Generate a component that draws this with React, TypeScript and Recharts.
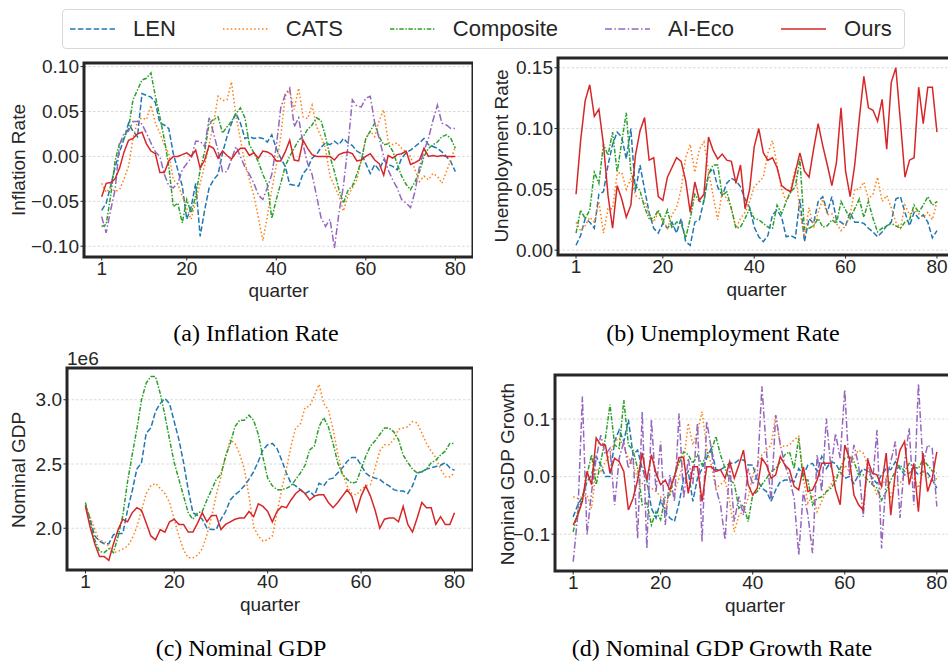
import React from "react";
import { LineChart, Line, XAxis, YAxis, CartesianGrid, ReferenceArea } from "recharts";

// quarters 1..80 on the x axis
const quarters = Array.from({ length: 80 }, (_, i) => i + 1);
const xTicks = [1, 20, 40, 60, 80];

// (a) inflation rate
const inflLEN = [
  -0.06, -0.052, -0.033, -0.012, 0.005, 0.02, 0.037, 0.028, 0.022, 0.07,
  0.068, 0.066, 0.06, 0.037, 0.035, 0.031, 0.003, -0.015, -0.033, -0.07,
  -0.056, -0.03, -0.089, -0.06, -0.035, -0.026, -0.02, 0.004, 0.022, 0.037,
  0.048, 0.037, 0.02, 0.022, 0.02, 0.021, 0.02, 0.016, 0.024, 0.009,
  -0.002, -0.011, -0.031, -0.032, -0.033, -0.019, -0.013, -0.002, 0.002, 0.01,
  0.015, 0.013, 0.017, 0.013, 0.02, 0.015, 0.012, 0.006, 0.003, -0.008,
  -0.019, -0.009, -0.015, -0.004, -0.009, -0.011, -0.015, -0.002, 0.004, 0.007,
  0.011, 0.015, 0.02, 0.013, 0.011, 0.009, 0.005, 0.0, -0.006, -0.017,
];
const inflCATS = [
  -0.03, -0.04, -0.035, -0.039, -0.037, -0.025, -0.011, 0.02, 0.039, 0.043,
  0.041, 0.057, 0.037, 0.026, 0.013, 0.003, -0.026, -0.031, -0.044, -0.058,
  -0.07, -0.05, -0.03, -0.01, 0.013, 0.037, 0.067, 0.062, 0.063, 0.083,
  0.045, 0.019, -0.007, -0.026, -0.044, -0.068, -0.094, -0.067, -0.037, -0.01,
  0.022, 0.067, 0.074, 0.052, 0.076, 0.044, 0.042, 0.057, 0.033, 0.022,
  0.009, -0.022, -0.033, -0.044, -0.061, -0.044, -0.035, -0.026, -0.004, 0.02,
  0.028, 0.022, 0.04, 0.052, 0.016, 0.013, 0.015, 0.009, 0.005, 0.0,
  -0.015, -0.028, -0.022, -0.026, -0.019, -0.022, -0.03, -0.017, -0.004, 0.011,
];
const inflComposite = [
  -0.078, -0.076, -0.044, -0.005, 0.015, 0.02, 0.031, 0.063, 0.074, 0.085,
  0.087, 0.093, 0.067, 0.044, 0.019, -0.011, -0.056, -0.052, -0.074, -0.048,
  -0.063, -0.044, -0.015, 0.005, 0.037, 0.041, 0.044, 0.026, 0.033, 0.039,
  0.048, 0.054, 0.043, 0.013, 0.004, -0.006, -0.02, -0.031, -0.069, -0.048,
  -0.03, -0.011, 0.0, 0.009, 0.018, 0.022, 0.03, 0.035, 0.043, 0.04,
  0.022, 0.0, -0.017, -0.037, -0.052, -0.038, -0.033, -0.02, -0.005, 0.02,
  0.028, 0.037, 0.022, 0.013, 0.014, 0.006, -0.008, -0.022, -0.031, -0.037,
  -0.028, -0.017, 0.0, 0.009, 0.013, 0.016, 0.022, 0.024, 0.02, 0.009,
];
const inflAIEco = [
  -0.067, -0.085, -0.06, -0.037, 0.013, 0.026, 0.028, 0.039, 0.039, 0.036,
  0.026, 0.015, 0.005, 0.0, -0.02, -0.033, -0.035, -0.03, -0.015, -0.008,
  -0.002, 0.017, 0.017, 0.011, 0.043, 0.026, 0.006, -0.017, -0.017, -0.003,
  0.011, 0.0, -0.012, -0.02, -0.03, -0.043, -0.048, -0.035, -0.02, 0.011,
  0.054, 0.069, 0.076, 0.033, 0.043, 0.013, -0.008, -0.02, -0.044, -0.068,
  -0.078, -0.07, -0.102, -0.063, -0.033, 0.011, 0.063, 0.056, 0.055, 0.065,
  0.067, 0.037, 0.02, 0.0, -0.015, -0.026, -0.035, -0.048, -0.052, -0.057,
  -0.039, -0.011, 0.006, 0.02, 0.04, 0.057, 0.037, 0.035, 0.031, 0.031,
];
const inflOurs = [
  -0.045, -0.03, -0.029, -0.025, -0.013, 0.005, 0.018, 0.02, 0.025, 0.027,
  0.014, 0.006, 0.003, -0.018, -0.018, -0.005, 0.0, 0.0, 0.002, 0.004,
  0.0, 0.007, -0.013, -0.004, 0.012, 0.009, -0.002, 0.006, 0.001, -0.003,
  0.004, 0.009, 0.009, 0.001, 0.004, -0.002, 0.006, 0.005, 0.002, -0.005,
  -0.005, 0.005, 0.018, -0.004, -0.005, 0.018, 0.009, 0.002, 0.0, 0.0,
  0.0, 0.0, -0.004, 0.002, 0.004, 0.005, 0.003, -0.005, -0.004, 0.0,
  0.003, -0.004, -0.008, -0.021, 0.001, -0.002, 0.002, 0.003, 0.006, -0.009,
  -0.007, -0.004, 0.009, 0.0, 0.001, 0.0, 0.001, 0.0, 0.0, 0.0,
];

// (b) unemployment rate
const unempLEN = [
  0.004, 0.012, 0.026, 0.023, 0.018, 0.046, 0.048, 0.07, 0.087, 0.097,
  0.093, 0.075, 0.1, 0.048, 0.07, 0.05, 0.031, 0.018, 0.014, 0.022,
  0.018, 0.023, 0.014, 0.026, 0.007, 0.004, 0.023, 0.025, 0.041, 0.063,
  0.067, 0.052, 0.045, 0.055, 0.059, 0.057, 0.052, 0.042, 0.035, 0.019,
  0.011, 0.007, 0.012, 0.029, 0.033, 0.027, 0.011, 0.012, 0.01, 0.042,
  0.007, 0.026, 0.022, 0.04, 0.044, 0.031, 0.044, 0.025, 0.023, 0.02,
  0.031, 0.023, 0.023, 0.022, 0.018, 0.015, 0.011, 0.015, 0.02, 0.023,
  0.042, 0.044, 0.031, 0.02, 0.031, 0.026, 0.029, 0.023, 0.01, 0.016,
];
const unempCATS = [
  0.023, 0.016, 0.02, 0.027, 0.023, 0.04, 0.014, 0.034, 0.034, 0.063,
  0.064, 0.05, 0.059, 0.045, 0.042, 0.04, 0.029, 0.023, 0.031, 0.025,
  0.018, 0.029, 0.035, 0.05, 0.076, 0.087, 0.064, 0.083, 0.089, 0.065,
  0.045, 0.025, 0.048, 0.042, 0.035, 0.018, 0.026, 0.031, 0.04, 0.052,
  0.056, 0.06, 0.08, 0.09, 0.07, 0.05, 0.04, 0.05, 0.067, 0.031,
  0.011, 0.035, 0.018, 0.031, 0.042, 0.029, 0.03, 0.022, 0.016, 0.02,
  0.029, 0.05, 0.05, 0.056, 0.042, 0.046, 0.06, 0.04, 0.045, 0.035,
  0.023, 0.018, 0.037, 0.029, 0.033, 0.03, 0.027, 0.031, 0.025, 0.04,
];
const unempComposite = [
  0.014, 0.033, 0.026, 0.033, 0.064, 0.055, 0.087, 0.078, 0.097, 0.064,
  0.089, 0.113, 0.064, 0.053, 0.049, 0.035, 0.026, 0.026, 0.033, 0.023,
  0.033, 0.018, 0.023, 0.022, 0.01, 0.026, 0.046, 0.04, 0.04, 0.063,
  0.07, 0.07, 0.045, 0.048, 0.034, 0.018, 0.019, 0.026, 0.034, 0.026,
  0.025, 0.022, 0.019, 0.018, 0.037, 0.03, 0.04, 0.048, 0.052, 0.075,
  0.016, 0.018, 0.02, 0.026, 0.019, 0.02, 0.025, 0.022, 0.04, 0.033,
  0.026, 0.034, 0.042, 0.027, 0.04, 0.026, 0.015, 0.018, 0.02, 0.022,
  0.02, 0.018, 0.023, 0.025, 0.037, 0.031, 0.037, 0.044, 0.037, 0.04,
];
const unempOurs = [
  0.046, 0.09, 0.123, 0.136, 0.11, 0.116, 0.087, 0.045, 0.018, 0.053,
  0.042, 0.027, 0.037, 0.078, 0.098, 0.109, 0.074, 0.076, 0.044, 0.041,
  0.06, 0.068, 0.076, 0.073, 0.057, 0.031, 0.056, 0.041, 0.046, 0.093,
  0.082, 0.075, 0.079, 0.074, 0.073, 0.055, 0.07, 0.034, 0.05, 0.085,
  0.1, 0.08, 0.074, 0.076, 0.068, 0.053, 0.05, 0.048, 0.064, 0.08,
  0.065, 0.06, 0.083, 0.104, 0.086, 0.07, 0.053, 0.072, 0.117, 0.065,
  0.044, 0.07, 0.108, 0.143, 0.117, 0.115, 0.106, 0.124, 0.083, 0.138,
  0.15, 0.106, 0.06, 0.074, 0.076, 0.134, 0.104, 0.134, 0.134, 0.097,
];

// (c) nominal GDP, in units of 1e6
const gdpLEN = [
  2.18, 2.07, 1.94, 1.9, 1.88, 1.88, 1.95, 1.96, 1.96, 2.14,
  2.29, 2.46, 2.51, 2.74, 2.78, 2.91, 2.97, 3.01, 2.97, 2.83,
  2.69, 2.51, 2.3, 2.12, 2.1, 2.07, 2.0, 1.99, 1.99, 2.07,
  2.13, 2.22, 2.26, 2.29, 2.33, 2.38, 2.44, 2.52, 2.61, 2.65,
  2.66, 2.62, 2.53, 2.43, 2.35, 2.33, 2.3, 2.27, 2.29, 2.25,
  2.35, 2.33, 2.38, 2.39, 2.43, 2.47, 2.52, 2.55, 2.55, 2.49,
  2.43, 2.4, 2.39, 2.38, 2.35, 2.33, 2.3, 2.29, 2.29, 2.27,
  2.33, 2.43, 2.44, 2.46, 2.47, 2.48, 2.49, 2.51, 2.47, 2.45,
];
const gdpCATS = [
  2.17, 2.09, 1.99, 1.9, 1.9, 1.86, 1.81, 1.82, 1.84, 1.86,
  1.92, 2.01, 2.14, 2.27, 2.33, 2.35, 2.31, 2.27, 2.2, 2.07,
  1.94, 1.83, 1.77, 1.77, 1.79, 1.84, 1.95, 2.09, 2.26, 2.4,
  2.56, 2.69, 2.66, 2.58, 2.46, 2.25, 2.01, 1.94, 1.9, 1.91,
  1.94, 2.12, 2.3, 2.46, 2.64, 2.78, 2.81, 2.94, 2.95, 3.03,
  3.12, 2.97, 2.92, 2.77, 2.58, 2.43, 2.33, 2.27, 2.26, 2.3,
  2.33, 2.34, 2.47, 2.6, 2.65, 2.65, 2.69, 2.77, 2.78, 2.79,
  2.83, 2.82, 2.74, 2.66, 2.6, 2.55, 2.46, 2.4, 2.4, 2.43,
];
const gdpComposite = [
  2.2, 2.04, 1.91, 1.82, 1.81, 1.84, 1.81, 1.94, 2.1, 2.36,
  2.57, 2.77, 3.0, 3.13, 3.18, 3.18, 3.05, 2.88, 2.69, 2.51,
  2.38, 2.25, 2.12, 2.07, 2.12, 2.13, 2.22, 2.3, 2.38, 2.42,
  2.56, 2.66, 2.79, 2.84, 2.84, 2.88, 2.84, 2.73, 2.55, 2.39,
  2.33, 2.3, 2.3, 2.31, 2.33, 2.38, 2.43, 2.49, 2.61, 2.64,
  2.79, 2.86, 2.79, 2.66, 2.51, 2.42, 2.38, 2.35, 2.36, 2.46,
  2.56, 2.64, 2.68, 2.73, 2.78, 2.78, 2.75, 2.69, 2.57, 2.51,
  2.46, 2.43, 2.44, 2.46, 2.51, 2.53, 2.57, 2.6, 2.66, 2.66,
];
const gdpOurs = [
  2.17, 2.01, 1.88, 1.78, 1.78, 1.75, 1.88, 1.99, 2.07, 2.05,
  2.12, 2.16, 2.14, 2.04, 1.94, 1.91, 1.99, 1.97, 2.05, 2.07,
  2.03, 2.03, 1.97, 1.97, 2.04, 2.12, 2.05, 2.1, 2.1, 1.99,
  2.03, 2.05, 2.07, 2.08, 2.08, 2.13, 2.09, 2.19, 2.17, 2.13,
  2.05, 2.13, 2.17, 2.16, 2.22, 2.27, 2.3, 2.27, 2.22, 2.25,
  2.26, 2.26, 2.2, 2.16, 2.2, 2.25, 2.3, 2.25, 2.13, 2.25,
  2.33, 2.25, 2.14, 2.0, 2.07, 2.08, 2.08, 2.05, 2.17, 2.03,
  1.97, 2.08, 2.2, 2.16, 2.16, 2.03, 2.09, 2.03, 2.03, 2.12,
];

// (d) nominal GDP growth
const growthLEN = [
  -0.07, -0.049, -0.035, -0.009, 0.003, 0.035, 0.02, 0.0, 0.0, 0.061,
  0.081, 0.061, 0.099, 0.038, 0.046, 0.014, -0.006, -0.055, -0.072, -0.041,
  -0.061, -0.072, -0.078, -0.046, -0.003, 0.009, -0.043, -0.003, 0.014, 0.032,
  0.049, 0.012, 0.012, 0.017, 0.023, 0.023, 0.029, 0.029, 0.02, 0.02,
  -0.006, -0.02, -0.026, -0.043, -0.023, -0.009, -0.006, -0.006, -0.009, 0.014,
  0.003, 0.02, 0.023, 0.009, 0.035, 0.014, 0.026, 0.023, 0.009, -0.003,
  0.0, -0.012, 0.003, 0.014, 0.009, -0.003, -0.012, 0.003, 0.014, 0.012,
  0.026, 0.014, 0.003, 0.006, 0.012, 0.003, 0.009, 0.006, -0.005, -0.02,
];
const growthCATS = [
  -0.035, -0.038, -0.035, -0.032, -0.055, 0.014, 0.009, 0.026, 0.038, 0.061,
  0.067, 0.052, 0.032, 0.02, -0.003, -0.012, -0.014, -0.02, -0.026, -0.035,
  -0.058, -0.026, -0.026, -0.003, 0.026, 0.093, 0.055, 0.078, 0.113, 0.049,
  0.02, -0.02, -0.014, -0.006, -0.043, -0.096, -0.067, -0.06, -0.038, 0.003,
  0.02, 0.038, 0.046, 0.055, 0.107, 0.055, 0.052, 0.055, 0.064, 0.07,
  -0.003, -0.046, -0.032, -0.061, -0.043, -0.026, -0.014, 0.003, 0.003, 0.02,
  0.009, 0.035, 0.046, 0.041, 0.02, -0.009, -0.032, -0.017, -0.003, -0.035,
  -0.014, -0.012, 0.003, 0.009, -0.003, -0.02, 0.009, 0.0, -0.01, -0.003,
];
const growthComposite = [
  -0.096, -0.061, -0.038, 0.003, 0.038, -0.014, 0.026, 0.067, 0.125, 0.055,
  0.049, 0.133, 0.055, 0.046, 0.014, -0.049, -0.046, -0.084, -0.061, -0.075,
  -0.035, -0.032, 0.003, 0.023, 0.043, 0.038, 0.023, 0.038, 0.02, 0.041,
  0.043, 0.07, 0.038, 0.014, -0.006, -0.012, -0.055, -0.049, -0.078, -0.032,
  -0.026, -0.014, -0.003, 0.009, 0.014, 0.026, 0.038, 0.043, 0.014, 0.067,
  -0.006, -0.006, -0.049, -0.038, -0.035, -0.026, -0.02, -0.009, 0.014, 0.032,
  0.035, 0.026, 0.003, 0.003, -0.006, -0.014, -0.02, -0.041, -0.026, -0.006,
  0.009, 0.02, 0.009, 0.023, 0.017, 0.014, 0.029, 0.02, 0.01, 0.006,
];
const growthAIEco = [
  -0.148, -0.067, 0.139, -0.101, -0.026, 0.032, 0.072, 0.038, 0.049, -0.049,
  0.032, 0.061, 0.014, 0.038, -0.107, 0.113, -0.125, 0.099, -0.026, 0.061,
  -0.084, 0.003, -0.043, 0.11, -0.038, 0.032, -0.014, 0.093, -0.113, 0.096,
  0.049, -0.02, -0.049, -0.11, 0.02, -0.078, -0.035, -0.067, 0.014, -0.014,
  0.003, 0.157, 0.043, -0.043, 0.107, 0.055, 0.02, -0.003, -0.038, -0.136,
  -0.026, -0.067, -0.133, 0.038, -0.026, 0.101, 0.014, 0.075, 0.032, 0.151,
  0.003, 0.055, 0.02, -0.07, 0.032, -0.014, 0.081, -0.125, -0.003, 0.026,
  0.061, -0.072, 0.026, 0.084, -0.049, 0.162, 0.02, 0.055, 0.049, -0.052,
];
const growthOurs = [
  -0.084, -0.067, -0.043, 0.009, -0.014, 0.067, 0.055, 0.055, 0.006, 0.032,
  0.026, 0.009, -0.058, -0.038, -0.006, 0.041, -0.006, 0.038, 0.006, -0.014,
  -0.006, -0.023, 0.0, 0.033, 0.033, -0.029, 0.017, 0.017, -0.043, 0.017,
  0.017, 0.009, 0.012, -0.003, 0.026, -0.003, 0.02, 0.046, -0.014, -0.032,
  -0.02, 0.032, 0.02, -0.003, 0.003, 0.035, 0.02, 0.012, -0.017, -0.023,
  0.017, -0.026, -0.023, -0.006, 0.023, 0.023, 0.023, -0.023, -0.049, 0.055,
  0.032, -0.032, -0.049, -0.058, 0.029, 0.006, 0.003, -0.017, 0.041, -0.067,
  0.009, 0.046, 0.061, -0.014, 0.023, -0.061, 0.041, -0.026, -0.003, 0.043,
];

const FONT = '"Liberation Sans", Arial, sans-serif';
const INK = "#262626";
const X_DOMAIN: [number, number] = [-2.95, 83.95];

const SERIES = [
  { key: "LEN", color: "#1f77b4", dash: "5.5 2.4" },
  { key: "CATS", color: "#ff7f0e", dash: "1.5 2.4" },
  { key: "Composite", color: "#2ca02c", dash: "4.5 1.6 1.5 1.6" },
  { key: "AI-Eco", color: "#9467bd", dash: "7 2.4 1.5 2.4" },
  { key: "Ours", color: "#d62728", dash: undefined },
];

const signed = (digits: number) => (v: number) =>
  (v < 0 ? "\u2212" : "") + Math.abs(v).toFixed(digits);

const tickStyle = { fontSize: 19, fill: INK, fontFamily: FONT };

type PanelProps = {
  left: number;
  top: number;
  plotW: number;
  plotH: number;
  yAxisW: number;
  yDomain: [number, number];
  yTicks: number[];
  fmt: (v: number) => string;
  labelOffset: number;
  series: Record<string, number[]>;
};

function Panel({ left, top, plotW, plotH, yAxisW, yDomain, yTicks, fmt, labelOffset, series }: PanelProps) {
  const data = quarters.map((q, i) => {
    const row: Record<string, number> = { q };
    Object.keys(series).forEach((k) => {
      row[k] = series[k][i];
    });
    return row;
  });
  const xH = 45;
  const padTop = 14;
  return (
    <div style={{ position: "absolute", left: left - yAxisW, top: top - padTop }}>
      <LineChart
        width={yAxisW + plotW}
        height={padTop + plotH + xH}
        data={data}
        margin={{ top: padTop, right: 0, bottom: 0, left: 0 }}
      >
        <CartesianGrid vertical={false} stroke="#cfcfcf" strokeDasharray="2.5 2" strokeWidth={0.8} />
        <XAxis
          dataKey="q"
          type="number"
          domain={X_DOMAIN}
          ticks={xTicks}
          interval={0}
          allowDataOverflow
          height={xH}
          axisLine={false}
          tickSize={3.5}
          tickMargin={1.5}
          tickLine={{ stroke: INK }}
          tick={tickStyle}
          label={{ value: "quarter", position: "insideBottom", offset: labelOffset, fill: INK, fontSize: 19, fontFamily: FONT }}
        />
        <YAxis
          type="number"
          domain={yDomain}
          ticks={yTicks}
          interval={0}
          allowDataOverflow
          width={yAxisW}
          axisLine={false}
          tickSize={3.5}
          tickMargin={1.5}
          tickLine={{ stroke: INK }}
          tick={tickStyle}
          tickFormatter={fmt}
        />
        {SERIES.filter((s) => series[s.key]).map((s) => (
          <Line
            key={s.key}
            type="linear"
            dataKey={s.key}
            stroke={s.color}
            strokeWidth={1.5}
            strokeDasharray={s.dash}
            dot={false}
            activeDot={false}
            isAnimationActive={false}
          />
        ))}
        <ReferenceArea
          x1={X_DOMAIN[0]}
          x2={X_DOMAIN[1]}
          y1={yDomain[0]}
          y2={yDomain[1]}
          fill="none"
          stroke={INK}
          strokeWidth={3}
          ifOverflow="visible"
        />
      </LineChart>
    </div>
  );
}

function Title({ x, y, text, rotate, size = 19, serif = false }: { x: number; y: number; text: string; rotate?: boolean; size?: number; serif?: boolean }) {
  return (
    <div
      style={{
        position: "absolute",
        left: x,
        top: y,
        transform: `translate(-50%, -50%)${rotate ? " rotate(-90deg)" : ""}`,
        whiteSpace: "nowrap",
        fontSize: size,
        lineHeight: 1,
        fontFamily: serif ? '"Liberation Serif", "Times New Roman", serif' : FONT,
        color: serif ? "#000" : INK,
      }}
    >
      {text}
    </div>
  );
}

function LegendBox() {
  return (
    <div
      style={{
        position: "absolute",
        left: 62,
        top: 9,
        width: 843,
        height: 40,
        boxSizing: "border-box",
        border: "1px solid #d8d8d8",
        borderRadius: 4,
        display: "flex",
        alignItems: "center",
        paddingLeft: 7,
        background: "#fff",
        whiteSpace: "nowrap",
      }}
    >
      {SERIES.map((s) => (
        <div key={s.key} style={{ display: "flex", alignItems: "center", marginRight: 47, flexShrink: 0 }}>
          <svg width={45} height={10}>
            <line x1={0} y1={5} x2={45} y2={5} stroke={s.color} strokeWidth={1.5} strokeDasharray={s.dash} />
          </svg>
          <span style={{ marginLeft: 18, fontSize: 22, fontFamily: FONT, color: INK, lineHeight: 1 }}>{s.key}</span>
        </div>
      ))}
    </div>
  );
}

export default function App() {
  return (
    <div
      style={{
        position: "absolute",
        left: 0,
        top: 0,
        width: 948,
        height: 666,
        overflow: "hidden",
        background: "#fff",
      }}
    >
      <LegendBox />

      <Panel
        left={84}
        top={63}
        plotW={389}
        plotH={194}
        yAxisW={84}
        yDomain={[-0.112, 0.104]}
        yTicks={[-0.1, -0.05, 0, 0.05, 0.1]}
        fmt={signed(2)}
        labelOffset={5}
        series={{ LEN: inflLEN, CATS: inflCATS, Composite: inflComposite, "AI-Eco": inflAIEco, Ours: inflOurs }}
      />
      <Panel
        left={558}
        top={58}
        plotW={397}
        plotH={197}
        yAxisW={60}
        yDomain={[-0.004, 0.158]}
        yTicks={[0, 0.05, 0.1, 0.15]}
        fmt={signed(2)}
        labelOffset={4}
        series={{ LEN: unempLEN, CATS: unempCATS, Composite: unempComposite, Ours: unempOurs }}
      />
      <Panel
        left={67}
        top={368}
        plotW={406}
        plotH={202}
        yAxisW={67}
        yDomain={[1.675, 3.247]}
        yTicks={[2.0, 2.5, 3.0]}
        fmt={signed(1)}
        labelOffset={4}
        series={{ LEN: gdpLEN, CATS: gdpCATS, Composite: gdpComposite, Ours: gdpOurs }}
      />
      <Panel
        left={555}
        top={375}
        plotW={400}
        plotH={196}
        yAxisW={60}
        yDomain={[-0.164, 0.1765]}
        yTicks={[-0.1, 0, 0.1]}
        fmt={signed(1)}
        labelOffset={4}
        series={{ LEN: growthLEN, CATS: growthCATS, Composite: growthComposite, "AI-Eco": growthAIEco, Ours: growthOurs }}
      />

      <Title x={18} y={160} text="Inflation Rate" rotate />
      <Title x={501} y={156} text="Unemployment Rate" rotate />
      <Title x={18} y={470} text="Nominal GDP" rotate />
      <Title x={507} y={474} text="Nominal GDP Growth" rotate />
      <div style={{ position: "absolute", left: 67, top: 349, fontSize: 19, lineHeight: 1, fontFamily: FONT, color: INK }}>
        1e6
      </div>

      <Title x={256} y={333} text="(a) Inflation Rate" size={24} serif />
      <Title x={723} y={333} text="(b) Unemployment Rate" size={24} serif />
      <Title x={241} y={648} text="(c) Nominal GDP" size={24} serif />
      <Title x={722} y={648} text="(d) Nominal GDP Growth Rate" size={24} serif />
    </div>
  );
}
